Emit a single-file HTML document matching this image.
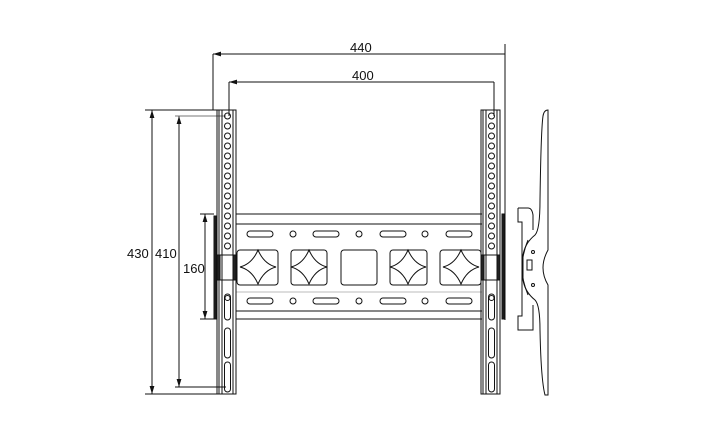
<!DOCTYPE html>
<html><head><meta charset="utf-8"><style>
html,body{margin:0;padding:0;background:#fff;}
svg{display:block;}
text{font-family:"Liberation Sans",sans-serif;font-size:13px;fill:#111;}
</style></head><body>
<svg width="719" height="436" viewBox="0 0 719 436" xmlns="http://www.w3.org/2000/svg">
<defs>
<marker id="a" viewBox="0 0 10 6" refX="10" refY="3" markerWidth="8" markerHeight="5" orient="auto-start-reverse"><path d="M0,0L10,3L0,6z" fill="#111"/></marker>
<g id="dia"><path d="M-18,0 Q-6,-3 0,-17 Q6,-3 18,0 Q6,3 0,17 Q-6,3 -18,0z" fill="none" stroke="#111" stroke-width="1"/></g>
</defs>
<g stroke="#111" stroke-width="1" fill="none">
<!-- dimension 440 / 400 -->
<line x1="213" y1="54" x2="505" y2="54" marker-start="url(#a)"/>
<line x1="213" y1="54" x2="213" y2="110"/>
<line x1="505" y1="44" x2="505" y2="320"/>
<line x1="229" y1="82" x2="494" y2="82" marker-start="url(#a)"/>
<line x1="229" y1="82" x2="229" y2="116"/>
<line x1="494" y1="82" x2="494" y2="116"/>
<!-- vertical dims -->
<line x1="152" y1="110" x2="152" y2="394" marker-start="url(#a)" marker-end="url(#a)"/>
<line x1="145" y1="110" x2="217" y2="110"/>
<line x1="145" y1="394" x2="217" y2="394"/>
<line x1="179" y1="116" x2="179" y2="387" marker-start="url(#a)" marker-end="url(#a)"/>
<line x1="175" y1="116" x2="226" y2="116" stroke="#777"/>
<line x1="175" y1="387" x2="226" y2="387"/>
<line x1="205" y1="214" x2="205" y2="319" marker-start="url(#a)" marker-end="url(#a)"/>
<line x1="200" y1="214" x2="214" y2="214"/>
<line x1="200" y1="319" x2="214" y2="319"/>
<!-- plate -->
<line x1="236" y1="214" x2="482" y2="214"/>
<line x1="236" y1="224" x2="482" y2="224"/>
<line x1="236" y1="292" x2="482" y2="292" stroke="#bbb"/>
<line x1="236" y1="311" x2="482" y2="311"/>
<line x1="236" y1="319" x2="482" y2="319"/>
<g id="row">
<rect x="247" y="231" width="26" height="6" rx="3"/>
<circle cx="293" cy="234" r="3"/>
<rect x="313" y="231" width="26" height="6" rx="3"/>
<circle cx="359" cy="234" r="3"/>
<rect x="380" y="231" width="26" height="6" rx="3"/>
<circle cx="425" cy="234" r="3"/>
<rect x="446" y="231" width="26" height="6" rx="3"/>
</g>
<use href="#row" y="67"/>
<rect x="237" y="250" width="41" height="35" rx="3"/>
<rect x="291" y="250" width="36" height="35" rx="3"/>
<rect x="341" y="250" width="36" height="35" rx="3"/>
<rect x="390" y="250" width="37" height="35" rx="3"/>
<rect x="440" y="250" width="41" height="35" rx="3"/>
<use href="#dia" x="258" y="267"/>
<use href="#dia" x="309" y="267"/>
<use href="#dia" x="408" y="267"/>
<use href="#dia" x="461" y="267"/>
<!-- left rail -->
<g id="rail">
<rect x="217" y="110" width="19" height="145"/>
<line x1="219" y1="110" x2="219" y2="255"/>
<line x1="222" y1="110" x2="222" y2="255"/>
<line x1="233" y1="110" x2="233" y2="255"/>
<rect x="217" y="280" width="19" height="114"/>
<line x1="219" y1="280" x2="219" y2="394"/>
<line x1="222" y1="280" x2="222" y2="394"/>
<line x1="233" y1="280" x2="233" y2="394"/>
<rect x="222" y="255" width="11" height="25"/>
<rect x="217" y="255" width="3" height="25" fill="#222"/>
<rect x="233" y="255" width="3" height="25" fill="#222"/>
<circle cx="227.5" cy="116" r="3"/><circle cx="227.5" cy="126" r="3"/><circle cx="227.5" cy="136" r="3"/><circle cx="227.5" cy="146" r="3"/><circle cx="227.5" cy="156" r="3"/><circle cx="227.5" cy="166" r="3"/><circle cx="227.5" cy="176" r="3"/><circle cx="227.5" cy="186" r="3"/><circle cx="227.5" cy="196" r="3"/><circle cx="227.5" cy="206" r="3"/><circle cx="227.5" cy="216" r="3"/><circle cx="227.5" cy="226" r="3"/><circle cx="227.5" cy="236" r="3"/><circle cx="227.5" cy="246" r="3"/>
<rect x="224.5" y="294" width="6" height="26" rx="3"/>
<circle cx="227.5" cy="298" r="2.5"/>
<rect x="224.5" y="328" width="6" height="30" rx="3"/>
<rect x="224.5" y="362" width="6" height="30" rx="3"/>
</g>
<rect x="214" y="216" width="2" height="103" fill="#222"/>
<use href="#rail" x="264"/>
<rect x="502" y="214" width="2" height="105" fill="#222"/>
<!-- side profile -->
<path d="M548,110 L548,250 Q538,268 548,285 L548,395 L545,395 Q541,380 540,330 Q540,305 535,300 Q525,292 523,280 L523,255 Q525,243 535,235 Q540,230 540,200 Q541,130 543,116 Q544,110 548,110z"/>
<path d="M518,208 L528,208 Q532,208 533,215 L533,230 M518,208 L518,222 L522,222 L522,316 L518,316 L518,330 L533,330 L533,305"/>
<path d="M522,222 L518,222 M528,240 Q522,255 522,268 Q522,280 528,295"/>
<circle cx="533" cy="252" r="1.5"/><circle cx="533" cy="285" r="1.5"/>
<rect x="527" y="260" width="5" height="10"/>
</g>
<text x="350" y="52">440</text>
<text x="352" y="80">400</text>
<text x="127" y="258">430</text>
<text x="155" y="258">410</text>
<text x="183" y="273">160</text>
</svg>
</body></html>
